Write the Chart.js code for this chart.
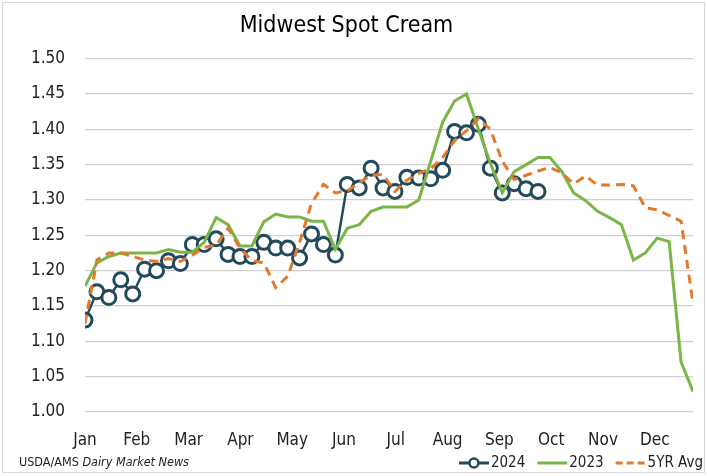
<!DOCTYPE html>
<html>
<head>
<meta charset="utf-8">
<script src="https://cdn.jsdelivr.net/npm/chart.js@4.4.1/dist/chart.umd.min.js"></script>
<style>
  html, body { margin: 0; padding: 0; background: #fff; }
  #wrap { width: 707px; height: 476px; }
</style>
</head>
<body>
<div id="wrap"><canvas id="myChart" width="707" height="476"></canvas></div>
<script>
// weekly prices, $/lb butterfat basis
var months = ['Jan', 'Feb', 'Mar', 'Apr', 'May', 'Jun', 'Jul', 'Aug', 'Sep', 'Oct', 'Nov', 'Dec'];
var seriesNames = ['2024', '2023', '5YR Avg'];
var yTicks = [1.00, 1.05, 1.10, 1.15, 1.20, 1.25, 1.30, 1.35, 1.40, 1.45, 1.50];

var values2024 = [
  1.130, 1.170, 1.162, 1.187, 1.167, 1.202, 1.200, 1.214, 1.210, 1.237,
  1.237, 1.245, 1.223, 1.220, 1.220, 1.240, 1.232, 1.232, 1.218, 1.252,
  1.237, 1.222, 1.322, 1.317, 1.345, 1.317, 1.312, 1.332, 1.331, 1.330,
  1.342, 1.397, 1.395, 1.407, 1.345, 1.310, 1.323, 1.316, 1.312
];
var values2023 = [
  1.178, 1.211, 1.220, 1.225, 1.225, 1.225, 1.225, 1.230, 1.226, 1.226,
  1.240, 1.275, 1.265, 1.235, 1.235, 1.269, 1.280, 1.276, 1.276, 1.270,
  1.270, 1.230, 1.260, 1.265, 1.284, 1.290, 1.290, 1.290, 1.300, 1.355,
  1.410, 1.440, 1.450, 1.400, 1.352, 1.310, 1.340, 1.350, 1.360, 1.360,
  1.340, 1.310, 1.299, 1.284, 1.275, 1.265, 1.215, 1.225, 1.246, 1.241,
  1.071, 1.029
];
var values5yr = [
  1.125, 1.215, 1.225, 1.225, 1.220, 1.215, 1.213, 1.217, 1.213, 1.222,
  1.233, 1.236, 1.260, 1.232, 1.214, 1.211, 1.176, 1.192, 1.240, 1.295,
  1.322, 1.310, 1.313, 1.324, 1.335, 1.336, 1.312, 1.328, 1.338, 1.344,
  1.360, 1.384, 1.398, 1.415, 1.400, 1.355, 1.329, 1.335, 1.341, 1.346,
  1.338, 1.323, 1.334, 1.321, 1.321, 1.322, 1.320, 1.289, 1.286, 1.278,
  1.270, 1.154
];

var navy = '#234a5c';
var green = '#7ab547';
var orange = '#e3792b';
var fontFam = "'Liberation Sans Narrow', 'Arial Narrow', 'DejaVu Sans Condensed', sans-serif";

function toPoints(arr) {
  return arr.map(function (v, i) { return {x: i, y: v}; });
}

// month ticks sit at the first day of each month, measured in weeks
var weeksPerMonth = 365 / 12 / 7;

var extrasPlugin = {
  id: 'extras',
  afterDraw: function (chart) {
    var ctx = chart.ctx;
    ctx.save();
    // light frame
    ctx.strokeStyle = '#d9d9d9';
    ctx.lineWidth = 1;
    ctx.strokeRect(2.5, 2.5, 702, 470);

    var y = 463;
    ctx.font = '15px ' + fontFam;
    ctx.textBaseline = 'middle';
    ctx.textAlign = 'left';

    // legend, laid out from the right edge
    var markW = 30, gapT = 2, gapI = 12;
    var widths = seriesNames.map(function (s) { return ctx.measureText(s).width; });
    var total = 3 * (markW + gapT) + widths[0] + widths[1] + widths[2] + 2 * gapI;
    var x = 703 - total;
    var styles = [
      {color: navy, dash: [], circle: true},
      {color: green, dash: [], circle: false},
      {color: orange, dash: [7, 4], circle: false}
    ];
    styles.forEach(function (st, i) {
      ctx.lineWidth = 3;
      ctx.strokeStyle = st.color;
      ctx.setLineDash(st.dash);
      ctx.beginPath(); ctx.moveTo(x, y); ctx.lineTo(x + markW, y); ctx.stroke();
      ctx.setLineDash([]);
      if (st.circle) {
        ctx.beginPath(); ctx.arc(x + markW / 2, y, 4.5, 0, Math.PI * 2);
        ctx.fillStyle = '#fff'; ctx.fill(); ctx.lineWidth = 2.5; ctx.stroke();
      }
      ctx.fillStyle = '#222';
      ctx.fillText(seriesNames[i], x + markW + gapT, y);
      x += markW + gapT + widths[i] + gapI;
    });

    // source
    ctx.fillStyle = '#222';
    ctx.font = '12.5px ' + fontFam;
    ctx.fillText('USDA/AMS ', 19, y);
    var w = ctx.measureText('USDA/AMS ').width;
    ctx.font = 'italic 12.5px ' + fontFam;
    ctx.fillText('Dairy Market News', 19 + w, y);
    ctx.restore();
  }
};

var ctx = document.getElementById('myChart');
var chart = new Chart(ctx, {
  type: 'line',
  data: {
    datasets: [
      {
        label: seriesNames[0],
        data: toPoints(values2024),
        borderColor: navy,
        borderWidth: 2.5,
        pointRadius: 7,
        pointBorderWidth: 3,
        pointBackgroundColor: '#fff',
        pointBorderColor: navy,
        order: 3
      },
      {
        label: seriesNames[1],
        data: toPoints(values2023),
        borderColor: green,
        borderWidth: 3,
        pointRadius: 0,
        order: 2
      },
      {
        label: seriesNames[2],
        data: toPoints(values5yr),
        borderColor: orange,
        borderWidth: 3,
        borderDash: [9, 6],
        pointRadius: 0,
        order: 1
      }
    ]
  },
  options: {
    responsive: false,
    animation: false,
    layout: { padding: { left: 0, right: 14, top: 0, bottom: 0 } },
    plugins: {
      legend: { display: false },
      tooltip: { enabled: false },
      title: {
        display: true,
        text: 'Midwest Spot Cream',
        color: '#000',
        font: { family: fontFam, size: 23, weight: 'normal' },
        padding: { top: 12, bottom: 19 }
      }
    },
    scales: {
      x: {
        type: 'linear',
        min: 0,
        max: 51,
        grid: { display: false },
        border: { display: false },
        afterBuildTicks: function (scale) {
          scale.ticks = months.map(function (m, i) { return {value: i * weeksPerMonth}; });
        },
        afterFit: function (scale) { scale.height = 64; },
        ticks: {
          autoSkip: false,
          maxRotation: 0,
          padding: 10,
          color: '#222',
          font: { family: fontFam, size: 17 },
          callback: function (v, i) { return months[i]; }
        }
      },
      y: {
        min: yTicks[0],
        max: yTicks[yTicks.length - 1],
        afterBuildTicks: function (scale) {
          scale.ticks = yTicks.map(function (v) { return {value: v}; });
        },
        afterFit: function (scale) { scale.width = 85; },
        grid: { color: '#d0d0d0', lineWidth: 1.3, drawTicks: false },
        border: { display: false },
        ticks: {
          padding: 20,
          color: '#222',
          font: { family: fontFam, size: 17 },
          callback: function (v) { return v.toFixed(2); }
        }
      }
    }
  },
  plugins: [extrasPlugin]
});
</script>
</body>
</html>
